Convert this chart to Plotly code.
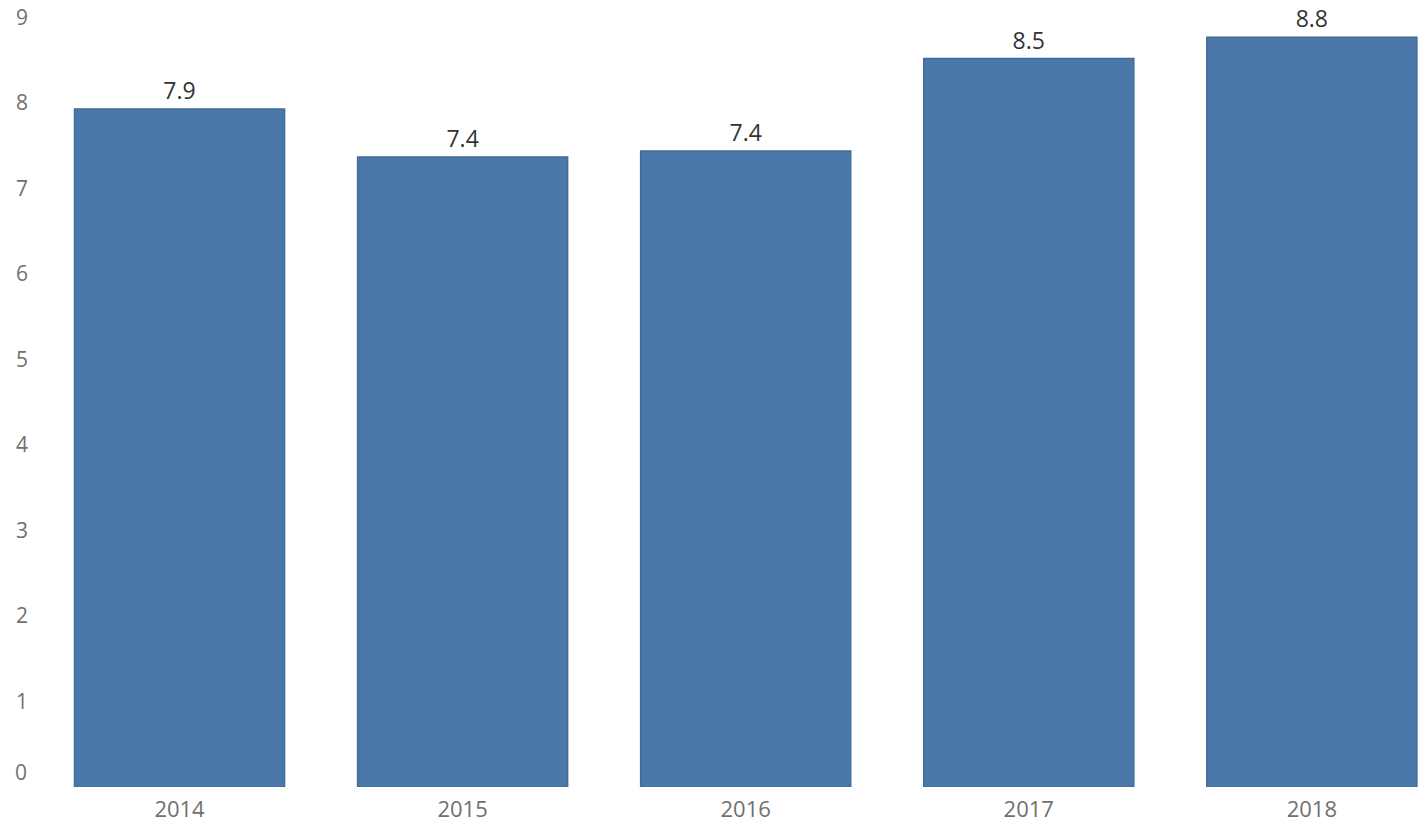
import plotly.graph_objects as go

# Annual values per year
years = ["2014", "2015", "2016", "2017", "2018"]
values = [7.93, 7.37, 7.44, 8.52, 8.77]
y_ticks = [1, 2, 3, 4, 5, 6, 7, 8, 9]

BAR_COLOR = "#4b78a8"
FONT = "Open Sans"
TICK_COLOR = "#707070"

fig = go.Figure(
    go.Bar(
        x=years,
        y=values,
        width=0.742,
        marker=dict(color=BAR_COLOR, line=dict(color="#3f6c9c", width=1.5)),
        text=values,
        texttemplate="%{y:.1f}",
        textposition="outside",
        textfont=dict(family=FONT, size=23, color="#333333"),
        cliponaxis=False,
    )
)

fig.update_layout(
    width=1418,
    height=825,
    margin=dict(l=38, r=0, t=0, b=38),
    paper_bgcolor="white",
    plot_bgcolor="white",
    showlegend=False,
    font=dict(family=FONT),
)

fig.update_xaxes(
    type="category",
    range=[-0.5, 4.375],
    showgrid=False,
    showline=False,
    ticks="",
    tickfont=dict(family=FONT, size=22, color=TICK_COLOR),
    ticklabelstandoff=7,
)

fig.update_yaxes(
    range=[0, 9.205],
    tickvals=y_ticks,
    ticktext=[str(v) for v in y_ticks],
    showgrid=False,
    zeroline=False,
    showline=False,
    ticks="",
    tickfont=dict(family=FONT, size=21, color=TICK_COLOR),
    ticklabelstandoff=9,
)

# zero label sits slightly above the baseline
fig.add_annotation(
    x=0, xref="paper", xanchor="right", xshift=-9,
    y=0, yref="y", yshift=15, yanchor="middle",
    text="0", showarrow=False,
    font=dict(family=FONT, size=21, color=TICK_COLOR),
)

fig.write_html("out.html")
